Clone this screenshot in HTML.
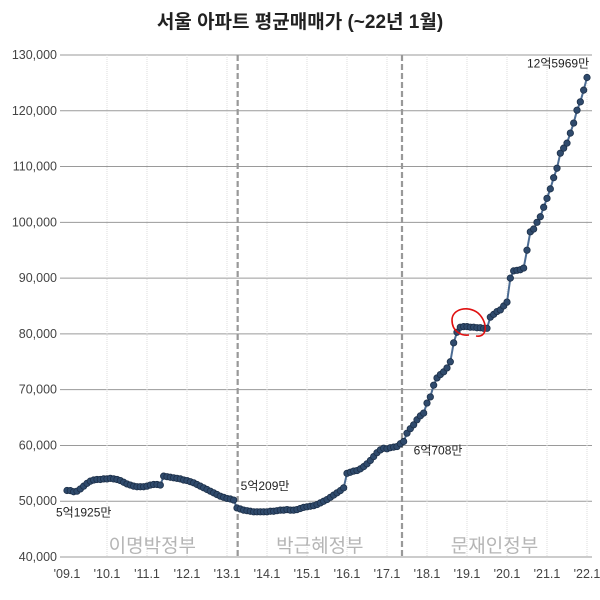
<!DOCTYPE html>
<html><head><meta charset="utf-8"><style>
body{margin:0;background:#fff;}
svg text{font-family:"Liberation Sans","Noto Sans CJK KR",sans-serif;}
</style></head><body>
<svg id="c" width="600" height="595" viewBox="0 0 600 595">
<text x="300" y="28" text-anchor="middle" font-size="19" font-weight="bold" fill="#222">서울 아파트 평균매매가 (~22년 1월)</text>
<g id="grid"></g><g id="labels"></g><g id="series"></g><g id="notes"></g>
</svg>
<script>
const yTicks=[40000,50000,60000,70000,80000,90000,100000,110000,120000,130000];
const xTickLabels=["'09.1","'10.1","'11.1","'12.1","'13.1","'14.1","'15.1","'16.1","'17.1","'18.1","'19.1","'20.1","'21.1","'22.1"];
const eraNames=["이명박정부","박근혜정부","문재인정부"];
const eraBoundaries=[51.2,100.5];
const prices=[
51925,51900,51700,51800,52200,52700,53200,53600,53800,53900,53900,54000,
54000,54100,54000,53900,53700,53400,53100,52900,52700,52600,52600,52600,
52700,52900,53000,53000,52900,54500,54400,54300,54200,54100,54000,53800,
53700,53500,53300,53000,52700,52400,52100,51800,51500,51200,50900,50700,
50500,50400,50209,48800,48600,48400,48300,48200,48100,48100,48100,48100,
48100,48200,48200,48300,48400,48400,48500,48400,48400,48500,48700,48900,
49000,49100,49200,49400,49700,50000,50300,50700,51100,51500,51900,52400,
55000,55200,55400,55500,55800,56200,56700,57300,58000,58700,59200,59500,
59400,59600,59700,59800,60300,60708,62200,63000,63700,64600,65300,65800,
67600,68700,70800,72100,72700,73200,73900,75000,78400,80300,81200,81300,
81300,81200,81200,81100,81100,81000,81000,83000,83500,84000,84300,85000,
85700,90000,91300,91400,91500,91800,95000,98300,98800,100000,101000,102700,
104300,106000,108000,109700,112400,113300,114200,116000,117800,120100,121600,123700,
125969];
const annotations=[{i:0,t:"5억1925만",dx:-11,dy:26},{i:50,t:"5억209만",dx:7,dy:-10},{i:101,t:"6억708만",dx:10,dy:13},{i:156,t:"12억5969만",dx:-60,dy:-10}];
const X0=67,X1=587,Y0=557,Y1=55;
const x=i=>X0+i*(X1-X0)/156;
const y=v=>Y0-(v-40000)*(Y0-Y1)/90000;
const NS="http://www.w3.org/2000/svg";
function mk(p,tag,a){const e=document.createElementNS(NS,tag);for(const k in a)e.setAttribute(k,a[k]);document.getElementById(p).appendChild(e);return e;}
yTicks.forEach(v=>{
 const l=mk("grid","line",{x1:60,x2:592,y1:y(v),y2:y(v),stroke:"#9a9a9a","stroke-width":1});
 
 
 const t=mk("labels","text",{x:57,y:y(v)+4,"text-anchor":"end","font-size":12.5,fill:"#444"});t.textContent=v.toLocaleString("en-US");
 
 
});
xTickLabels.forEach((s,k)=>{
 const px=x(k*12);
 if(k>0){const l=mk("grid","line",{x1:px,x2:px,y1:Y1,y2:Y0,stroke:"#ddd","stroke-width":1,"stroke-dasharray":"1,1"});
 
 }
 const t=mk("labels","text",{x:px,y:578,"text-anchor":"middle","font-size":12.5,fill:"#444"});t.textContent=s;
 
 
});
eraBoundaries.forEach(b=>{const l=mk("grid","line",{x1:x(b),x2:x(b),y1:Y1,y2:Y0,stroke:"#999","stroke-width":2.2,"stroke-dasharray":"6,3"});
 
 });
const eraEdges=[0,...eraBoundaries,156];
eraNames.forEach((n,k)=>{const t=mk("labels","text",{x:(x(eraEdges[k])+x(eraEdges[k+1]))/2,y:552,"text-anchor":"middle","font-size":19,fill:"#b5b5b5"});t.textContent=n;
 
 });
const pl=mk("series","polyline",{points:prices.map((v,i)=>x(i)+","+y(v)).join(" "),fill:"none",stroke:"#4c6c93","stroke-width":2});


prices.forEach((v,i)=>{const c=mk("series","circle",{cx:x(i),cy:y(v),r:3.2,fill:"#2f4a6c",stroke:"#1c2f48","stroke-width":0.8});
 
 });
annotations.forEach(a=>{const t=mk("notes","text",{x:x(a.i)+a.dx,y:y(prices[a.i])+a.dy,"font-size":12,fill:"#222"});t.textContent=a.t;
 
 });
const rc=mk("notes","path",{d:"M476,336 C488,338 488,322 478,313 C468,305 452,309 452,320 C452,332 462,336 469,335",fill:"none",stroke:"#e01010","stroke-width":1.6});


</script>
</body></html>
